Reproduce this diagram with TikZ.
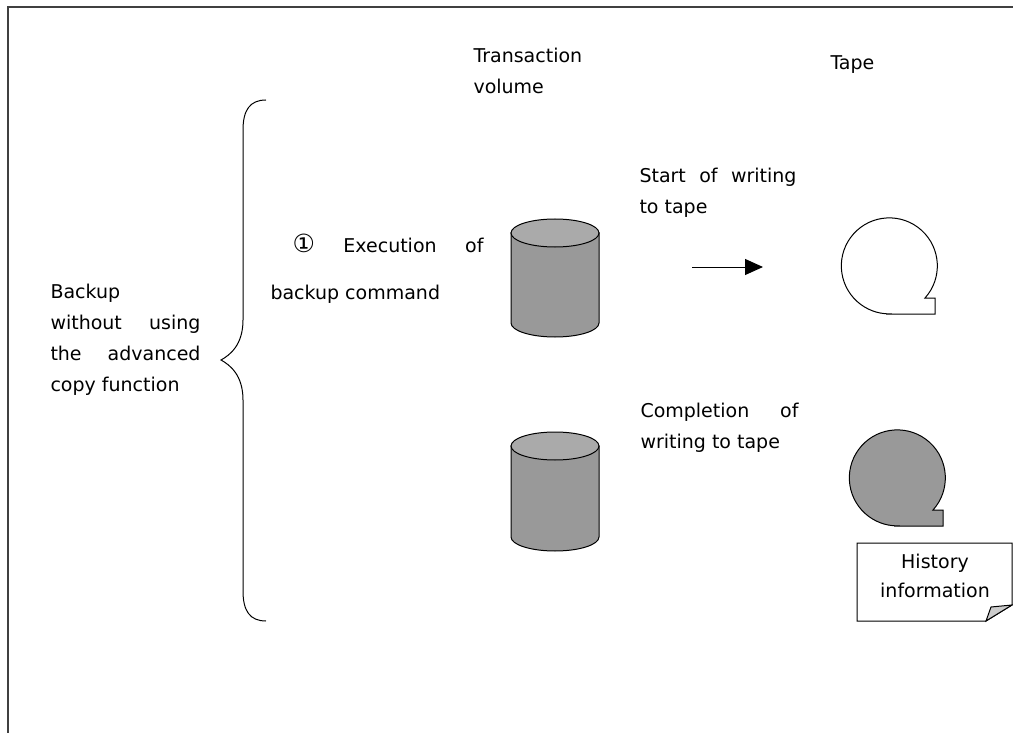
\documentclass[tikz,border=0pt]{standalone}
\usepackage{fontspec}
\setmainfont{DejaVu Sans}
\usetikzlibrary{arrows.meta}
\definecolor{volgray}{HTML}{999999}
\definecolor{topgray}{HTML}{AAAAAA}
\begin{document}
\begin{tikzpicture}[x=1pt,y=-1pt,line width=1pt,
	txt/.style={anchor=north west,inner sep=0pt,align=left,font=\fontsize{19}{31}\selectfont}]
	\useasboundingbox (0,0) rectangle (1013,733);
	\draw[line width=2pt,black!75] (8,733) -- (8,7) -- (1013,7);
	% brace
	\draw (266,100) .. controls (250,100) and (243,110) .. (243,130) -- (243,320)
		.. controls (243,345) and (230,355) .. (221,360)
		.. controls (230,365) and (243,375) .. (243,400) -- (243,591)
		.. controls (243,611) and (250,621) .. (266,621);
	\node[txt] (backup) at (50,283.5) {Backup\\\makebox[150pt][s]{without using}\\\makebox[150pt][s]{the advanced}\\copy function};
	\node[txt] (trans) at (473,47.5) {Transaction\\volume};
	\node[txt,anchor=base west] (tape) at (830,70) {Tape};
	\node[txt] (exec) at (270,237.5) {\hspace*{22pt}\makebox[191pt][s]{\smash{\fontsize{25}{31}\selectfont ①} Execution of}\\[16pt]backup command};
	\node[txt] (start) at (639,167.5) {\makebox[157pt][s]{Start of writing}\\to tape};
	\node[txt] (compl) at (640,402.5) {\makebox[158pt][s]{Completion of}\\writing to tape};
	% volumes
	\filldraw[fill=volgray] (511,233) -- (511,323) arc[start angle=180,end angle=360,x radius=44pt,y radius=14pt] -- (599,233) -- cycle;
	\filldraw[fill=topgray] (555,233) ellipse[x radius=44pt,y radius=14pt];
	\filldraw[fill=volgray] (511,446) -- (511,537) arc[start angle=180,end angle=360,x radius=44pt,y radius=14pt] -- (599,446) -- cycle;
	\filldraw[fill=topgray] (555,446) ellipse[x radius=44pt,y radius=14pt];
	% arrow
	\coordinate (wfrom) at (692,267);
	\coordinate (wto) at (763,267);
	\draw[-{Triangle[length=18pt,width=16pt]}] (wfrom) -- (wto);
	% tapes
	\draw (889,314) -- (935,314) -- (935,298) -- (925,298) arc[start angle=-42,end angle=270,radius=48pt] -- cycle;
	\filldraw[fill=volgray] (897,526) -- (943,526) -- (943,510) -- (933,510) arc[start angle=-42,end angle=270,radius=48pt] -- cycle;
	% history note
	\draw (857,543) -- (1012,543) -- (1012,605) -- (986,621) -- (857,621) -- cycle;
	\filldraw[fill=black!20] (1012,605) -- (991,607) -- (986,621) -- cycle;
	\node[txt,align=center,anchor=north,font=\fontsize{19}{29}\selectfont] (hist) at (935,553.5) {History\\information};
\end{tikzpicture}
\end{document}
